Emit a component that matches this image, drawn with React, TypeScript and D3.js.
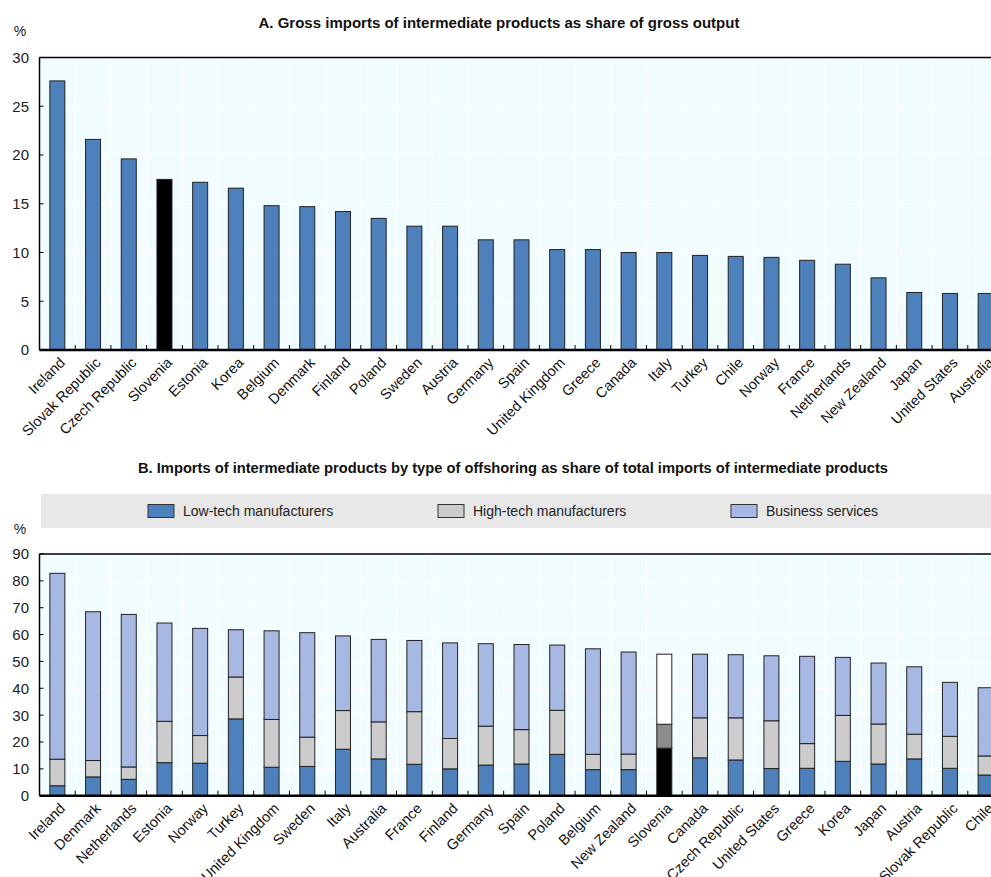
import React from "react";
import * as d3 from "d3";

const countriesA = ["Ireland","Slovak Republic","Czech Republic","Slovenia","Estonia","Korea","Belgium","Denmark","Finland","Poland","Sweden","Austria","Germany","Spain","United Kingdom","Greece","Canada","Italy","Turkey","Chile","Norway","France","Netherlands","New Zealand","Japan","United States","Australia"];
const valuesA = [27.6,21.6,19.6,17.5,17.2,16.6,14.8,14.7,14.2,13.5,12.7,12.7,11.3,11.3,10.3,10.3,10.0,10.0,9.7,9.6,9.5,9.2,8.8,7.4,5.9,5.8,5.8];

const countriesB = ["Ireland","Denmark","Netherlands","Estonia","Norway","Turkey","United Kingdom","Sweden","Italy","Australia","France","Finland","Germany","Spain","Poland","Belgium","New Zealand","Slovenia","Canada","Czech Republic","United States","Greece","Korea","Japan","Austria","Slovak Republic","Chile"];
const lowTech = [3.7,7.0,6.1,12.3,12.1,28.6,10.6,10.9,17.3,13.7,11.7,10.0,11.4,11.8,15.4,9.7,9.7,17.7,14.1,13.3,10.1,10.2,12.8,11.8,13.7,10.2,7.7];
const highTech = [9.9,6.1,4.6,15.4,10.3,15.6,17.8,10.9,14.4,13.8,19.6,11.3,14.5,12.8,16.4,5.7,5.8,8.9,14.9,15.7,17.8,9.2,17.1,14.9,9.2,11.9,7.1];
const business = [69.2,55.4,56.8,36.6,39.9,17.6,33.0,38.9,27.8,30.7,26.5,35.6,30.7,31.7,24.3,39.3,38.0,26.1,23.7,23.5,24.2,32.5,21.6,22.7,25.1,20.1,25.4];

const seriesNames = ["Low-tech manufacturers","High-tech manufacturers","Business services"];
const ticksA = [0,5,10,15,20,25,30];
const ticksB = [0,10,20,30,40,50,60,70,80,90];
const highlight = "Slovenia";

const titleA = "A. Gross imports of intermediate products as share of gross output";
const titleB = "B. Imports of intermediate products by type of offshoring as share of total imports of intermediate products";

const W = 991, H = 877;
const FONT = "'Liberation Sans', Arial, sans-serif";
const BG = "#F1FCFF";
const colors = ["#4E80BC", "#CCCCCC", "#A7B8E3"];
const hiColors = ["#000000", "#8C8C8C", "#FFFFFF"];

const plotL = 39.5, plotR = 1003.5;

function Panel({ countries, yScale, ticks, top, bottom, children }: any) {
  const x = d3.scaleBand().domain(countries).range([plotL, plotR]).paddingInner(0);
  const bw = x.bandwidth();
  return (
    <g>
      <rect x={plotL} y={top} width={plotR - plotL} height={bottom - top} fill={BG} />
      {ticks.map((t: number) => (
        <line key={"h" + t} x1={plotL} x2={plotR} y1={yScale(t)} y2={yScale(t)} stroke="#fff" strokeWidth={1.2} />
      ))}
      {countries.map((c: string, i: number) => (
        <line key={"v" + i} x1={plotL + i * bw} x2={plotL + i * bw} y1={top} y2={bottom} stroke="#fff" strokeWidth={1.2} />
      ))}
      {children(x)}
      <line x1={plotL} x2={plotR} y1={top} y2={top} stroke="#000" strokeWidth={1.5} />
      <line x1={plotL} x2={plotL} y1={top} y2={bottom} stroke="#000" strokeWidth={1.5} />
      {countries.map((c: string, i: number) => i > 0 ? (
        <line key={"t" + i} x1={plotL + i * bw} x2={plotL + i * bw} y1={bottom} y2={bottom - 5} stroke="#000" strokeWidth={1} />
      ) : null)}
      {ticks.map((t: number) => (
        <g key={"yt" + t}>
          <line x1={plotL} x2={plotL + 4} y1={yScale(t)} y2={yScale(t)} stroke="#000" strokeWidth={1} />
          <text x={29} y={yScale(t)} dy="0.36em" textAnchor="end" fontSize={15} fontFamily={FONT} fill="#222">{t}</text>
        </g>
      ))}
      <line x1={plotL} x2={plotR} y1={bottom} y2={bottom} stroke="#000" strokeWidth={2.5} />
      {countries.map((c: string) => (
        <text key={"l" + c} transform={`translate(${(x(c) as number) + bw / 2 + 5},${bottom + 10}) rotate(-45)`}
          textAnchor="end" dy="0.35em" fontSize={14.5} fontFamily={FONT} fill="#111">{c}</text>
      ))}
    </g>
  );
}

export default function App() {
  const topA = 57.5, bottomA = 350;
  const yA = d3.scaleLinear().domain([0, 30]).range([bottomA, topA]);
  const topB = 554, bottomB = 795.7;
  const yB = d3.scaleLinear().domain([0, 90]).range([bottomB, topB]);

  const stackData = countriesB.map((c, i) => ({ country: c, s0: lowTech[i], s1: highTech[i], s2: business[i] }));
  const stacked = d3.stack<any>().keys(["s0", "s1", "s2"])(stackData);

  const legendX = [148, 438, 731];

  return (
    <svg width={W} height={H} style={{ position: "absolute", left: 0, top: 0, background: "#fff" }}>
      <text x={499} y={28} textAnchor="middle" fontSize={15} fontWeight="bold" fontFamily={FONT} fill="#111">{titleA}</text>
      <text x={20} y={36} textAnchor="middle" fontSize={14} fontFamily={FONT} fill="#222">%</text>
      <Panel countries={countriesA} yScale={yA} ticks={ticksA} top={topA} bottom={bottomA}>
        {(x: any) => countriesA.map((c, i) => {
          const bwBar = 15;
          const cx = x(c) + x.bandwidth() / 2;
          return (
            <rect key={c} x={cx - bwBar / 2} y={yA(valuesA[i])} width={bwBar} height={bottomA - yA(valuesA[i])}
              fill={c === highlight ? "#000" : colors[0]} stroke="#222" strokeWidth={1} />
          );
        })}
      </Panel>

      <text x={513} y={473} textAnchor="middle" fontSize={14.7} fontWeight="bold" fontFamily={FONT} fill="#111">{titleB}</text>
      <rect x={41} y={494} width={W - 41} height={34} fill="#E8E8E8" />
      {seriesNames.map((s, i) => (
        <g key={s}>
          <rect x={legendX[i]} y={504.5} width={26} height={13} fill={colors[i]} stroke="#333" strokeWidth={1} />
          <text x={legendX[i] + 35} y={511} dy="0.36em" fontSize={14} fontFamily={FONT} fill="#222">{s}</text>
        </g>
      ))}
      <text x={20} y={534} textAnchor="middle" fontSize={14} fontFamily={FONT} fill="#222">%</text>
      <Panel countries={countriesB} yScale={yB} ticks={ticksB} top={topB} bottom={bottomB}>
        {(x: any) => stacked.map((layer, li) => layer.map((d: any) => {
          const c = d.data.country;
          const bwBar = 15;
          const cx = x(c) + x.bandwidth() / 2;
          return (
            <rect key={c + li} x={cx - bwBar / 2} y={yB(d[1])} width={bwBar} height={yB(d[0]) - yB(d[1])}
              fill={c === highlight ? hiColors[li] : colors[li]} stroke="#222" strokeWidth={1} />
          );
        }))}
      </Panel>
    </svg>
  );
}
